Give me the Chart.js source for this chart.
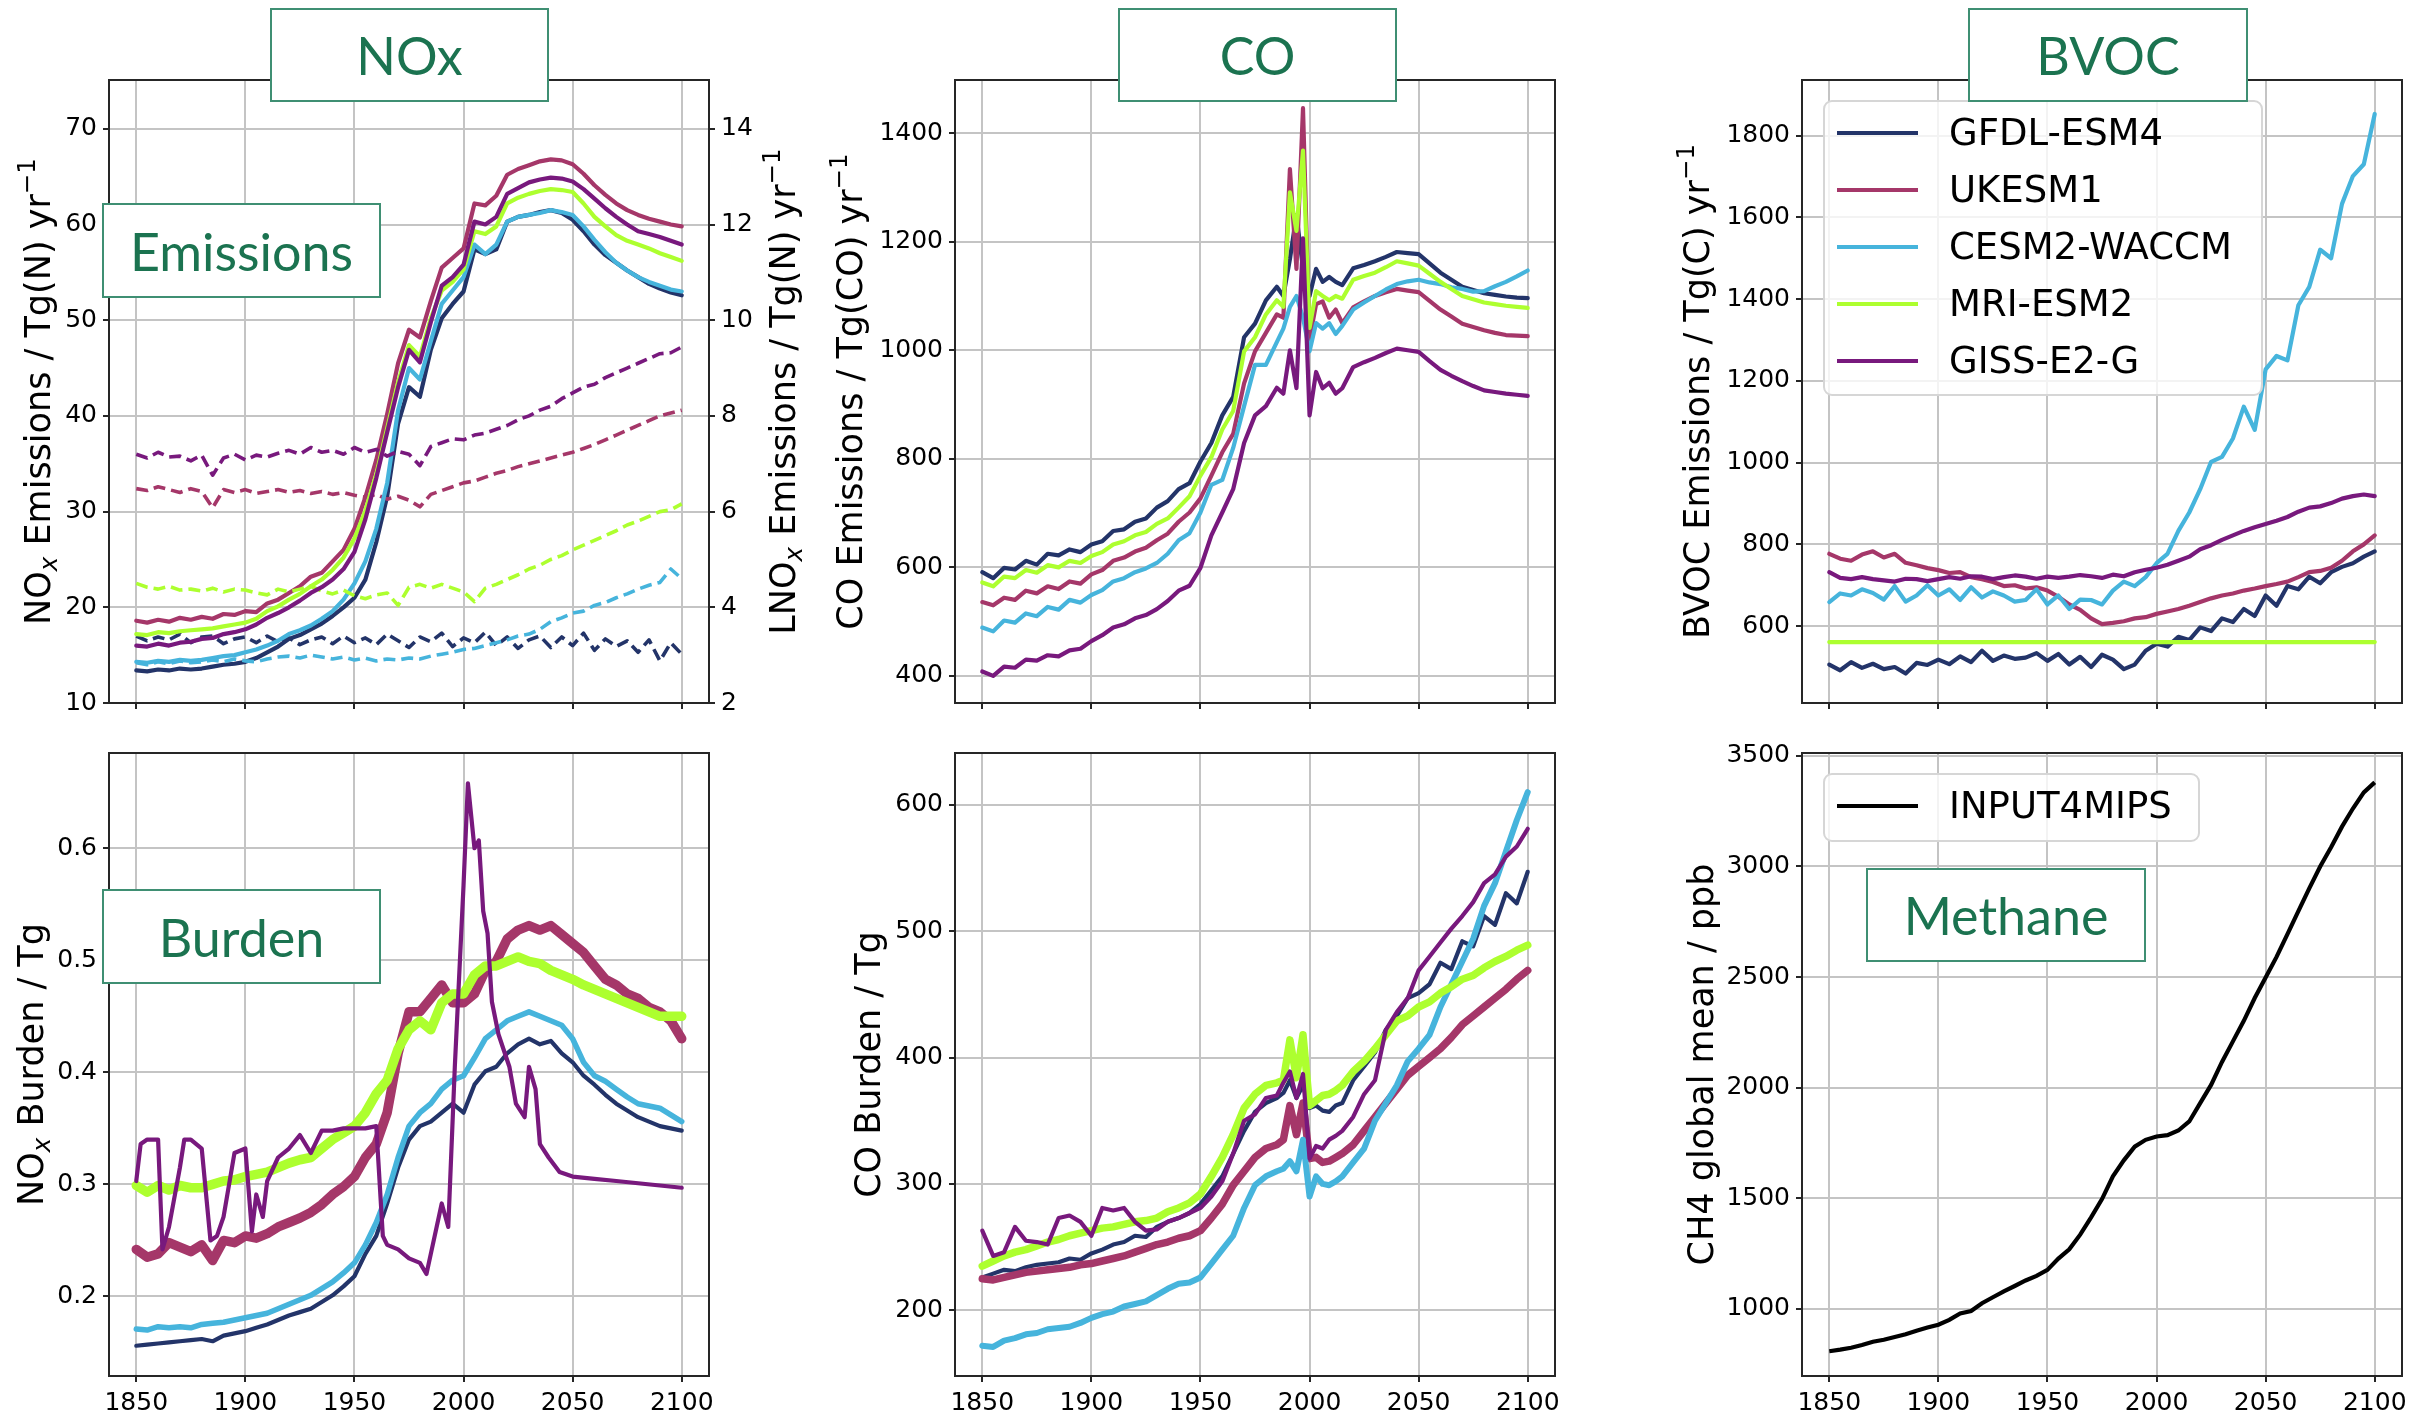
<!DOCTYPE html>
<html>
<head>
<meta charset="utf-8">
<script src="https://cdn.jsdelivr.net/npm/chart.js@4.4.1/dist/chart.umd.min.js"></script>
<style>
  body { margin: 0; width: 2431px; height: 1414px; background: #fff; position: relative; overflow: hidden; }
  canvas { position: absolute; }
  .tag {
    position: absolute; box-sizing: border-box; z-index: 3;
    border: 2px solid #3f8f73; background: #fff; color: #1b7350;
    font: 52px Lato, 'Noto Sans', sans-serif;
    display: flex; align-items: center; justify-content: center;
  }
  .legend {
    position: absolute; box-sizing: border-box; z-index: 2;
    border: 2px solid #d6d6d6; border-radius: 9px; background: rgba(255,255,255,0.8);
    padding-top: 2px; font: 37px 'DejaVu Sans', sans-serif; color: #000;
  }
  .legend .item { height: 57px; display: flex; align-items: center; }
  .legend .swatch { display: inline-block; width: 81px; height: 4px; margin-left: 12px; margin-right: 31px; }
</style>
</head>
<body>
<script>
// ── shared axes ─────────────────────────────────────────────
const YEARS5 = Array.from({ length: 51 }, (_, i) => 1850 + 5 * i);
const MID_YEARS = [1850,1855,1860,1865,1870,1875,1880,1885,1890,1895,1900,1905,1910,1915,1920,1925,1930,1935,1940,1945,
  1950,1955,1960,1965,1970,1975,1980,1985,1988,1991,1994,1997,2000,2003,2006,2009,2012,2015,
  2020,2025,2030,2035,2040,2045,2050,2055,2060,2065,2070,2075,2080,2085,2090,2095,2100];
const YEAR_TICKS = [1850, 1900, 1950, 2000, 2050, 2100];

const MODELS = ['GFDL-ESM4', 'UKESM1', 'CESM2-WACCM', 'MRI-ESM2', 'GISS-E2-G'];
const COLORS = ['#233469', '#a53769', '#46b4dc', '#adff2f', '#78197d'];

// ── NOx emissions, Tg(N)/yr (solid, left axis) ──────────────
const NOX_GFDL  = [13.4,13.3,13.5,13.4,13.6,13.5,13.6,13.8,14.0,14.1, 14.3,14.7,15.3,15.9,16.7,17.1,17.7,18.3,19.1,20.0, 21.0,22.9,26.8,31.6,39.2,43.0,42.0,46.9,50.2,51.7, 53.0,57.4,56.9,57.4,60.3,60.8,61.0,61.3,61.5,61.2, 60.5,59.3,57.9,56.8,56.0,55.2,54.5,53.8,53.3,52.9, 52.6];
const NOX_UKESM = [18.6,18.4,18.7,18.5,18.9,18.7,19.0,18.8,19.3,19.2, 19.6,19.5,20.4,20.8,21.5,22.2,23.2,23.6,24.8,26.0, 28.2,31.5,35.4,40.2,45.5,49.0,48.2,52.0,55.5,56.5, 57.5,62.2,62.0,63.0,65.2,65.8,66.2,66.6,66.8,66.7, 66.3,65.3,64.1,63.1,62.2,61.5,61.0,60.6,60.3,60.0, 59.8];
const NOX_CESM  = [14.3,14.2,14.4,14.3,14.5,14.4,14.5,14.7,14.9,15.0, 15.3,15.6,16.0,16.5,17.2,17.6,18.1,18.8,19.6,20.8, 22.5,24.8,28.2,33.0,40.6,45.0,43.8,47.8,51.7,53.1, 54.5,57.9,56.9,57.9,60.3,60.8,61.0,61.2,61.5,61.3, 61.0,59.8,58.4,57.1,56.0,55.2,54.5,54.0,53.6,53.2, 53.0];
const NOX_MRI   = [17.2,17.1,17.4,17.3,17.5,17.6,17.7,17.8,18.0,18.2, 18.4,18.8,19.6,20.1,20.8,21.4,22.2,22.9,23.9,25.2, 27.2,30.1,33.9,38.7,43.5,47.4,46.2,50.2,53.1,54.0, 55.3,59.3,59.0,59.8,62.2,62.8,63.2,63.5,63.7,63.6, 63.4,62.2,60.8,59.8,58.9,58.3,57.9,57.5,57.0,56.6, 56.2];
const NOX_GISS  = [16.0,15.9,16.2,16.0,16.3,16.4,16.7,16.8,17.2,17.4, 17.7,18.2,18.9,19.4,20.0,20.7,21.5,22.1,22.9,24.0, 25.8,29.2,33.5,38.3,43.0,46.9,45.6,49.8,53.6,54.5, 55.8,60.3,60.0,60.8,63.2,63.8,64.4,64.7,64.9,64.8, 64.5,63.7,62.7,61.7,60.8,60.0,59.3,59.0,58.7,58.3, 57.9];

// ── lightning NOx, Tg(N)/yr (dashed, right axis) ────────────
const LNOX_GFDL  = [3.40,3.30,3.38,3.32,3.44,3.26,3.38,3.40,3.24,3.34, 3.38,3.26,3.40,3.28,3.36,3.22,3.32,3.38,3.24,3.40, 3.26,3.36,3.22,3.44,3.30,3.16,3.38,3.28,3.46,3.18, 3.36,3.26,3.48,3.20,3.38,3.14,3.32,3.40,3.16,3.38, 3.20,3.46,3.10,3.34,3.18,3.30,3.06,3.32,2.88,3.26, 3.02];
const LNOX_UKESM = [6.48,6.44,6.52,6.46,6.40,6.48,6.42,6.08,6.46,6.40, 6.46,6.38,6.42,6.46,6.40,6.44,6.38,6.42,6.36,6.40, 6.34,6.30,6.36,6.26,6.32,6.24,6.10,6.36,6.44,6.52, 6.60,6.64,6.72,6.80,6.86,6.94,7.00,7.06,7.12,7.18, 7.24,7.32,7.40,7.50,7.60,7.70,7.80,7.90,8.00,8.06, 8.12];
const LNOX_CESM  = [2.84,2.80,2.86,2.82,2.88,2.84,2.86,2.90,2.86,2.92, 2.88,2.86,2.92,2.96,2.98,2.94,3.00,2.96,2.92,2.96, 2.90,2.94,2.88,2.92,2.90,2.94,2.92,2.98,3.02,3.06, 3.12,3.14,3.20,3.26,3.32,3.40,3.44,3.54,3.70,3.78, 3.88,3.92,4.04,4.10,4.20,4.28,4.38,4.46,4.52,4.80, 4.60];
const LNOX_MRI   = [4.50,4.42,4.38,4.44,4.36,4.38,4.34,4.40,4.32,4.38, 4.36,4.30,4.26,4.38,4.32,4.38,4.44,4.34,4.28,4.36, 4.24,4.18,4.26,4.30,4.04,4.42,4.48,4.40,4.48,4.40, 4.32,4.12,4.40,4.48,4.58,4.68,4.80,4.88,5.00,5.08, 5.20,5.30,5.40,5.50,5.60,5.72,5.80,5.90,6.00,6.04, 6.16];
const LNOX_GISS  = [7.20,7.12,7.24,7.14,7.16,7.06,7.18,6.76,7.12,7.20, 7.08,7.18,7.14,7.22,7.28,7.20,7.34,7.24,7.28,7.20, 7.34,7.24,7.30,7.16,7.26,7.20,6.96,7.36,7.44,7.52, 7.50,7.60,7.64,7.72,7.80,7.92,8.00,8.12,8.20,8.36, 8.48,8.60,8.66,8.80,8.90,9.00,9.10,9.20,9.30,9.32, 9.44];

// ── CO emissions, Tg(CO)/yr (on MID_YEARS) ──────────────────
const COE_GFDL  = [591,580,599,596,612,605,625,622,633,628, 642,648,667,670,684,690,710,722,744,755, 795,829,880,914,1024,1049,1092,1117, 1100,1168,1249,1150,1100,1150,1126,1135,1126,1120, 1151,1157,1164,1172,1181,1179,1177,1160,1143,1130,1117,1111,1105,1102,1099,1097,1096];
const COE_UKESM = [536,530,544,540,557,552,565,560,574,570, 587,595,612,618,629,636,650,662,684,701, 727,769,812,846,939,998,1032,1066, 1060,1334,1150,1446,1020,1085,1090,1060,1075,1050, 1079,1090,1100,1107,1113,1110,1107,1091,1075,1062,1049,1043,1037,1032,1028,1027,1026];
const COE_CESM  = [489,482,502,498,515,510,527,522,540,535, 549,558,574,580,591,598,608,625,650,663, 701,752,761,820,897,973,973,1015, 1040,1080,1100,1060,998,1050,1040,1050,1030,1045, 1075,1088,1100,1112,1122,1127,1130,1125,1122,1116,1113,1108,1109,1118,1126,1136,1147];
const COE_MRI   = [572,565,583,580,595,590,604,600,612,608, 621,628,642,648,659,665,680,690,710,731, 769,803,854,888,998,1024,1066,1092, 1080,1291,1220,1368,1041,1109,1100,1092,1100,1095, 1130,1137,1143,1153,1164,1160,1156,1141,1126,1113,1100,1094,1088,1085,1082,1080,1078];
const COE_GISS  = [408,400,417,415,430,428,438,436,447,450, 464,475,489,495,506,512,523,538,557,566, 599,659,701,744,829,880,897,931, 920,1000,930,1206,880,960,930,940,920,930, 969,978,986,995,1003,1000,997,980,964,953,943,934,926,923,920,918,916];

// ── BVOC emissions, Tg(C)/yr ────────────────────────────────
const BVOC_GFDL  = [506,492,512,498,508,495,500,484,510,505, 518,507,526,512,540,515,528,520,523,534, 515,532,506,525,500,530,518,495,506,540, 557,550,574,566,597,588,619,610,642,625, 675,650,698,690,721,705,732,745,754,770, 783];
const BVOC_UKESM = [777,765,760,775,783,768,777,755,749,742, 737,730,732,720,715,708,698,700,692,695, 687,672,653,640,619,605,608,612,619,622, 630,636,642,650,659,668,675,680,687,692, 698,703,709,720,732,735,743,760,783,800, 822];
const BVOC_CESM  = [659,680,675,690,681,665,698,660,675,700, 675,690,664,695,670,685,675,660,664,690, 653,675,642,665,664,653,687,709,698,720, 754,777,833,878,935,1002,1014,1059,1137,1080, 1228,1261,1250,1385,1430,1521,1500,1633,1701,1730, 1853];
const BVOC_MRI_YEARS = [1850, 2100];
const BVOC_MRI   = [561, 561];
const BVOC_GISS  = [732,718,715,720,715,712,709,716,715,710, 715,720,716,722,721,715,720,724,721,716, 721,718,721,725,722,718,726,722,732,738, 743,750,760,770,788,798,811,822,833,842, 850,858,867,880,890,893,901,912,918,922, 918];

// ── NOx burden, Tg ─────────────────────────────────────────
const BNOX_GFDL  = [0.156,0.157,0.158,0.159,0.160,0.161,0.162,0.160,0.165,0.167, 0.169,0.172,0.175,0.179,0.183,0.186,0.189,0.195,0.201,0.209, 0.218,0.238,0.254,0.283,0.315,0.340,0.352,0.356,0.364,0.372, 0.364,0.389,0.401,0.405,0.417,0.425,0.430,0.425,0.428,0.417, 0.409,0.397,0.389,0.380,0.372,0.366,0.360,0.356,0.352,0.350, 0.348];
const BNOX_UKESM = [0.242,0.235,0.238,0.248,0.244,0.240,0.246,0.232,0.250,0.248, 0.254,0.252,0.256,0.262,0.266,0.270,0.275,0.282,0.291,0.298, 0.307,0.324,0.336,0.364,0.417,0.454,0.454,0.466,0.478,0.462, 0.462,0.470,0.491,0.499,0.519,0.527,0.531,0.527,0.531,0.523, 0.515,0.507,0.495,0.483,0.478,0.470,0.466,0.458,0.454,0.446, 0.430];
const BNOX_CESM  = [0.171,0.170,0.173,0.172,0.173,0.172,0.175,0.176,0.177,0.179, 0.181,0.183,0.185,0.189,0.193,0.197,0.201,0.207,0.213,0.221, 0.230,0.246,0.266,0.291,0.324,0.352,0.364,0.372,0.385,0.393, 0.397,0.413,0.430,0.438,0.446,0.450,0.454,0.450,0.446,0.442, 0.430,0.409,0.397,0.392,0.385,0.378,0.372,0.370,0.368,0.362, 0.356];
const BNOX_MRI   = [0.299,0.293,0.299,0.295,0.299,0.297,0.297,0.300,0.303,0.304, 0.307,0.309,0.311,0.315,0.319,0.322,0.324,0.332,0.340,0.346, 0.352,0.364,0.381,0.393,0.421,0.438,0.446,0.438,0.462,0.470, 0.470,0.487,0.495,0.495,0.499,0.503,0.499,0.497,0.491,0.487, 0.483,0.478,0.474,0.470,0.466,0.462,0.458,0.454,0.450,0.450, 0.450];
const BNOX_GISS_YEARS = [1850,1852,1855,1860,1862,1865,1870,1872,1875,1880, 1884,1887,1890,1895,1900,1903,1905,1908,1910,1915, 1920,1925,1930,1935,1940,1945,1950,1955,1960,1963, 1965,1970,1975,1980,1983,1985,1990,1993,1996,2000, 2002,2005,2007,2009,2011,2013,2016,2021,2024,2028, 2030,2033,2035,2039,2044,2050,2060,2070,2080,2090, 2100];
const BNOX_GISS  = [0.303,0.336,0.340,0.340,0.242,0.262,0.315,0.340,0.340,0.332, 0.250,0.254,0.271,0.328,0.332,0.258,0.291,0.271,0.303,0.324, 0.332,0.344,0.328,0.348,0.348,0.350,0.350,0.350,0.352,0.254, 0.246,0.242,0.234,0.230,0.220,0.238,0.283,0.262,0.405,0.567, 0.658,0.600,0.607,0.544,0.524,0.463,0.434,0.405,0.372,0.360, 0.405,0.385,0.336,0.324,0.311,0.307,0.305,0.303,0.301,0.299, 0.297];

// ── CO burden, Tg (on MID_YEARS) ───────────────────────────
const BCO_GFDL  = [226,229,232,231,234,236,237,238,241,240, 245,248,252,254,259,258,266,270,273,277, 284,295,306,324,342,357,364,368, 372,382,368,378,360,362,358,357,362,364, 382,393,404,422,433,447,451,458,475,470,492,488,512,505,530,522,547];
const BCO_UKESM = [225,224,226,228,230,231,232,233,234,236, 237,239,241,243,246,249,252,254,257,259, 263,273,284,299,310,321,328,331, 335,362,339,364,320,321,317,318,321,324, 331,342,353,364,375,386,393,400,407,416,426,433,440,447,454,462,469];
const BCO_CESM  = [172,171,176,178,181,182,185,186,187,190, 194,197,199,203,205,207,212,217,221,222, 226,237,248,259,281,299,306,310, 312,318,310,335,290,306,300,299,302,306, 317,328,350,364,378,397,407,418,440,458,476,494,520,538,563,588,610];
const BCO_MRI   = [235,239,243,246,248,251,254,256,259,261, 263,265,266,268,270,271,273,278,281,285, 292,306,321,339,360,371,378,380, 382,414,384,418,362,366,370,371,374,378, 389,397,407,418,429,433,440,444,451,456,462,465,471,476,480,485,489];
const BCO_GISS  = [263,243,246,266,255,254,252,273,275,270, 259,281,279,281,270,263,264,270,273,277, 281,290,302,324,350,355,368,370, 380,389,368,387,320,330,328,335,338,342, 353,371,382,422,436,447,469,480,491,502,512,523,538,545,559,567,581];

// ── CH4 global mean, ppb ───────────────────────────────────
const CH4_INPUT4MIPS = [808,815,824,836,851,860,872,885,901,915, 928,950,979,990,1025,1052,1079,1103,1128,1149, 1176,1227,1269,1335,1413,1496,1599,1671,1733,1764, 1779,1785,1806,1847,1930,2012,2116,2209,2302,2405, 2498,2591,2694,2798,2901,3000,3087,3180,3262,3335, 3380];

// ── y-axis titles (text, kind) ─────────────────────────────
const T_NOX_EMIS  = [['NO', ''], ['x', 'sub'], [' Emissions / Tg(N) yr', ''], ['\u22121', 'sup']];
const T_LNOX_EMIS = [['LNO', ''], ['x', 'sub'], [' Emissions / Tg(N) yr', ''], ['\u22121', 'sup']];
const T_CO_EMIS   = [['CO Emissions / Tg(CO) yr', ''], ['\u22121', 'sup']];
const T_BVOC_EMIS = [['BVOC Emissions / Tg(C) yr', ''], ['\u22121', 'sup']];
const T_NOX_BURD  = [['NO', ''], ['x', 'sub'], [' Burden / Tg', '']];
const T_CO_BURD   = [['CO Burden / Tg', '']];
const T_CH4       = [['CH4 global mean / ppb', '']];

// ── layout ─────────────────────────────────────────────────
const COLS = [[109, 709], [955, 1555], [1802, 2402]];
const ROWS = [[79, 703], [752, 1376]];
const PAD_L = [105, 145, 145];
const LW = 4.2;

Chart.defaults.font.family = "'DejaVu Sans', sans-serif";
Chart.defaults.color = '#000';

const GRID = { color: '#c4c4c4', lineWidth: 2, tickLength: 6, tickColor: '#262626', tickWidth: 2 };
const TICK_FONT = { family: "'DejaVu Sans', sans-serif", size: 25 };

function pts(years, vals) { return years.map((x, i) => ({ x, y: vals[i] })); }

function series(m, years, vals, extra) {
  return Object.assign({
    label: MODELS[m], data: pts(years, vals),
    borderColor: COLORS[m], backgroundColor: COLORS[m],
    borderWidth: LW, pointRadius: 0, tension: 0, fill: false, order: -m,
    borderJoinStyle: 'round', borderCapStyle: 'round',
  }, extra || {});
}

function drawRichTitle(ctx, parts, cx, cy, size) {
  const fam = "'DejaVu Sans', sans-serif";
  const spec = parts.map(([txt, kind]) => {
    const s = kind ? size * 0.7 : size;
    const font = (kind === 'sub' ? 'italic ' : '') + s + 'px ' + fam;
    ctx.font = font;
    const dy = kind === 'sub' ? size * 0.22 : kind === 'sup' ? -size * 0.42 : 0;
    return { txt, font, dy, w: ctx.measureText(txt).width };
  });
  const total = spec.reduce((a, p) => a + p.w, 0);
  ctx.save();
  ctx.translate(cx, cy);
  ctx.rotate(-Math.PI / 2);
  ctx.fillStyle = '#000';
  ctx.textBaseline = 'alphabetic';
  let x = -total / 2;
  for (const p of spec) {
    ctx.font = p.font;
    ctx.fillText(p.txt, x, size * 0.36 + p.dy);
    x += p.w;
  }
  ctx.restore();
}

// frame around the plot area + side titles reading bottom-to-top
function framePlugin(titles) {
  return {
    id: 'frameAndTitles',
    afterDatasetsDraw(chart) {
      const { ctx, chartArea: a } = chart;
      ctx.save();
      ctx.strokeStyle = '#262626';
      ctx.lineWidth = 2;
      ctx.strokeRect(a.left, a.top, a.right - a.left, a.bottom - a.top);
      ctx.restore();
    },
    afterDraw(chart) {
      const a = chart.chartArea;
      titles.forEach(t => {
        const cx = t.side === 'left' ? a.left - t.offset : a.right + t.offset;
        drawRichTitle(chart.ctx, t.parts, cx, (a.top + a.bottom) / 2, 35);
      });
    },
  };
}

function yScale(pos, range, ticks, width, grid) {
  return {
    type: 'linear', position: pos, min: range[0], max: range[1],
    afterBuildTicks: s => { s.ticks = ticks.map(v => ({ value: v })); },
    afterFit: s => { s.width = width; },
    grid: Object.assign({}, GRID, { drawOnChartArea: grid }),
    border: { display: false },
    ticks: { font: TICK_FONT, color: '#000', padding: 6, callback: v => String(v) },
  };
}

function panel(col, row, cfg) {
  const [l, r] = COLS[col], [t, b] = ROWS[row];
  const padL = PAD_L[col], padR = cfg.y1 ? 150 : 20, padT = 20, padB = 50;
  const cv = document.createElement('canvas');
  cv.width = r - l + padL + padR;
  cv.height = b - t + padT + padB;
  cv.style.left = (l - padL) + 'px';
  cv.style.top = (t - padT) + 'px';
  document.body.appendChild(cv);

  const scales = {
    x: {
      type: 'linear', min: 1837.5, max: 2112.5,
      afterBuildTicks: s => { s.ticks = YEAR_TICKS.map(v => ({ value: v })); },
      afterFit: s => { s.height = padB; },
      grid: GRID, border: { display: false },
      ticks: { display: row === 1, font: TICK_FONT, color: '#000', padding: 6,
               autoSkip: false, maxRotation: 0, callback: v => String(v) },
    },
    y: yScale('left', cfg.y, cfg.yTicks, padL, true),
  };
  if (cfg.y1) scales.y1 = yScale('right', cfg.y1, cfg.y1Ticks, padR, false);

  new Chart(cv.getContext('2d'), {
    type: 'line',
    data: { datasets: cfg.datasets },
    options: {
      responsive: false, animation: false, devicePixelRatio: 1, events: [],
      layout: { autoPadding: false, padding: { top: padT, right: cfg.y1 ? 0 : padR, left: 0, bottom: 0 } },
      scales,
      plugins: { legend: { display: false }, tooltip: { enabled: false } },
    },
    plugins: [framePlugin(cfg.titles)],
  });
}

function tag(text, left, top, w, h) {
  const d = document.createElement('div');
  d.className = 'tag';
  d.textContent = text;
  Object.assign(d.style, { left: left + 'px', top: top + 'px', width: w + 'px', height: h + 'px' });
  document.body.appendChild(d);
}

function legend(names, colors, left, top, w, h) {
  const box = document.createElement('div');
  box.className = 'legend';
  Object.assign(box.style, { left: left + 'px', top: top + 'px', width: w + 'px', height: h + 'px' });
  box.innerHTML = names.map((n, i) =>
    `<div class="item"><span class="swatch" style="background:${colors[i]}"></span><span>${n}</span></div>`).join('');
  document.body.appendChild(box);
}

// ── NOx emissions + lightning NOx ──────────────────────────
const DASH = { yAxisID: 'y1', borderDash: [12, 6], borderWidth: 3.6, borderCapStyle: 'butt' };
panel(0, 0, {
  y: [10, 75.1], yTicks: [10, 20, 30, 40, 50, 60, 70],
  y1: [2, 15.02], y1Ticks: [2, 4, 6, 8, 10, 12, 14],
  titles: [{ side: 'left', offset: 72, parts: T_NOX_EMIS }, { side: 'right', offset: 73, parts: T_LNOX_EMIS }],
  datasets: [
    series(0, YEARS5, NOX_GFDL), series(1, YEARS5, NOX_UKESM), series(2, YEARS5, NOX_CESM),
    series(3, YEARS5, NOX_MRI), series(4, YEARS5, NOX_GISS),
    series(0, YEARS5, LNOX_GFDL, DASH), series(1, YEARS5, LNOX_UKESM, DASH), series(2, YEARS5, LNOX_CESM, DASH),
    series(3, YEARS5, LNOX_MRI, DASH), series(4, YEARS5, LNOX_GISS, DASH),
  ],
});

// ── CO emissions ───────────────────────────────────────────
panel(1, 0, {
  y: [350, 1498], yTicks: [400, 600, 800, 1000, 1200, 1400],
  titles: [{ side: 'left', offset: 106, parts: T_CO_EMIS }],
  datasets: [
    series(0, MID_YEARS, COE_GFDL), series(1, MID_YEARS, COE_UKESM), series(2, MID_YEARS, COE_CESM),
    series(3, MID_YEARS, COE_MRI), series(4, MID_YEARS, COE_GISS),
  ],
});

// ── BVOC emissions ─────────────────────────────────────────
panel(2, 0, {
  y: [412, 1936], yTicks: [600, 800, 1000, 1200, 1400, 1600, 1800],
  titles: [{ side: 'left', offset: 106, parts: T_BVOC_EMIS }],
  datasets: [
    series(0, YEARS5, BVOC_GFDL), series(1, YEARS5, BVOC_UKESM), series(2, YEARS5, BVOC_CESM),
    series(3, BVOC_MRI_YEARS, BVOC_MRI), series(4, YEARS5, BVOC_GISS),
  ],
});

// ── NOx burden ─────────────────────────────────────────────
panel(0, 1, {
  y: [0.129, 0.685], yTicks: [0.2, 0.3, 0.4, 0.5, 0.6],
  titles: [{ side: 'left', offset: 79, parts: T_NOX_BURD }],
  datasets: [
    series(0, YEARS5, BNOX_GFDL), series(1, YEARS5, BNOX_UKESM, { borderWidth: 9.5 }),
    series(2, YEARS5, BNOX_CESM, { borderWidth: 5.5 }), series(3, YEARS5, BNOX_MRI, { borderWidth: 9.5 }),
    series(4, BNOX_GISS_YEARS, BNOX_GISS),
  ],
});

// ── CO burden ──────────────────────────────────────────────
panel(1, 1, {
  y: [148, 641], yTicks: [200, 300, 400, 500, 600],
  titles: [{ side: 'left', offset: 88, parts: T_CO_BURD }],
  datasets: [
    series(0, MID_YEARS, BCO_GFDL), series(1, MID_YEARS, BCO_UKESM, { borderWidth: 7.5 }),
    series(2, MID_YEARS, BCO_CESM, { borderWidth: 6 }), series(3, MID_YEARS, BCO_MRI, { borderWidth: 7.5 }),
    series(4, MID_YEARS, BCO_GISS),
  ],
});

// ── methane ────────────────────────────────────────────────
panel(2, 1, {
  y: [696, 3513], yTicks: [1000, 1500, 2000, 2500, 3000, 3500],
  titles: [{ side: 'left', offset: 102, parts: T_CH4 }],
  datasets: [{
    label: 'INPUT4MIPS', data: pts(YEARS5, CH4_INPUT4MIPS),
    borderColor: '#000', borderWidth: LW, pointRadius: 0, tension: 0, fill: false,
  }],
});

// ── boxed labels and legends ───────────────────────────────
tag('NOx', 270, 8, 279, 94);
tag('Emissions', 102, 203, 279, 95);
tag('CO', 1118, 8, 279, 94);
tag('BVOC', 1968, 8, 280, 94);
tag('Burden', 102, 889, 279, 95);
tag('Methane', 1866, 868, 280, 94);

legend(MODELS, COLORS, 1823, 100, 440, 296);
legend(['INPUT4MIPS'], ['#000'], 1823, 773, 377, 69);
</script>
</body>
</html>
